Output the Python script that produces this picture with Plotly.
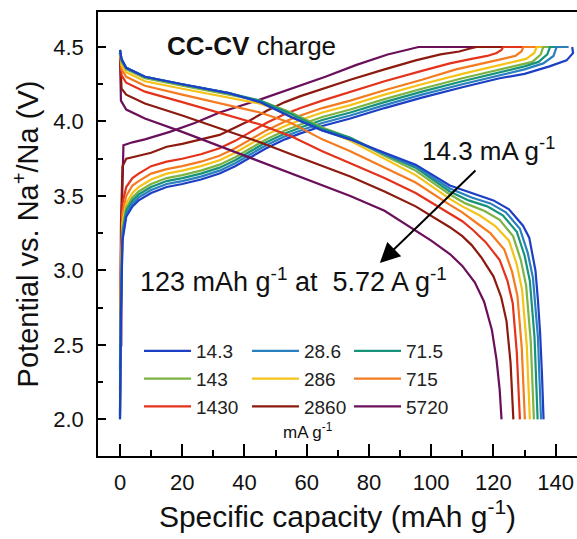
import plotly.graph_objects as go

FONT = "Liberation Sans, Arial, sans-serif"

# ---------------- data ----------------
rates = ["14.3", "28.6", "71.5", "143", "286", "715", "1430", "2860", "5720"]
colors = ["#1c3fc4", "#2a7fbf", "#16937a", "#7cb342", "#f5c218",
          "#f47b20", "#e4321b", "#8c1a0f", "#6a0f5a"]
legend_of = ["legend", "legend2", "legend3", "legend", "legend2", "legend3",
             "legend", "legend2", "legend3"]

# charge (CC-CV) curves: capacity (mAh/g), potential (V)
ch_q_14_3 = [0, 0.3, 0.8, 2, 4, 6, 10, 15, 20, 26, 32, 37, 42, 47, 53, 58, 65, 74, 85, 97, 110, 122, 130, 138, 143.5, 145.6, 145.3]
ch_v_14_3 = [2.00, 2.70, 3.20, 3.36, 3.43, 3.47, 3.52, 3.56, 3.58, 3.61, 3.65, 3.70, 3.76, 3.82, 3.88, 3.92, 3.97, 4.02, 4.09, 4.16, 4.23, 4.29, 4.32, 4.37, 4.41, 4.46, 4.50]
ch_q_28_6 = [0, 0.3, 0.8, 2, 4, 6, 10, 15, 20, 26, 32, 37, 42, 47, 53, 58, 65, 74, 85, 97, 110, 122, 130, 136, 139.3, 140.3, 144]
ch_v_28_6 = [2.00, 2.75, 3.22, 3.38, 3.45, 3.49, 3.54, 3.58, 3.60, 3.63, 3.67, 3.72, 3.78, 3.84, 3.90, 3.94, 3.99, 4.04, 4.11, 4.18, 4.25, 4.31, 4.35, 4.39, 4.44, 4.50, 4.50]
ch_q_71_5 = [0, 0.3, 0.8, 2, 4, 6, 10, 15, 20, 26, 32, 37, 42, 47, 53, 58, 65, 74, 85, 97, 110, 122, 130, 134.5, 137.3, 138.2, 144]
ch_v_71_5 = [2.02, 2.80, 3.25, 3.40, 3.47, 3.51, 3.56, 3.60, 3.62, 3.65, 3.69, 3.74, 3.80, 3.86, 3.92, 3.96, 4.01, 4.06, 4.13, 4.20, 4.27, 4.33, 4.37, 4.40, 4.45, 4.50, 4.50]
ch_q_143 = [0, 0.3, 0.8, 2, 4, 6, 10, 15, 20, 26, 32, 37, 42, 47, 53, 58, 65, 74, 85, 97, 110, 122, 128, 132.5, 135.2, 136, 144]
ch_v_143 = [2.04, 2.85, 3.28, 3.42, 3.49, 3.53, 3.58, 3.62, 3.64, 3.67, 3.71, 3.76, 3.82, 3.88, 3.94, 3.98, 4.03, 4.08, 4.15, 4.22, 4.29, 4.35, 4.38, 4.40, 4.45, 4.50, 4.50]
ch_q_286 = [0, 0.3, 0.8, 2, 4, 6, 10, 15, 20, 26, 32, 37, 42, 47, 53, 58, 65, 74, 85, 97, 110, 120, 126, 130.5, 133.1, 133.9, 144]
ch_v_286 = [2.08, 2.90, 3.32, 3.45, 3.52, 3.56, 3.61, 3.65, 3.67, 3.70, 3.74, 3.79, 3.85, 3.91, 3.97, 4.01, 4.06, 4.11, 4.18, 4.25, 4.32, 4.37, 4.40, 4.42, 4.46, 4.50, 4.50]
ch_q_715 = [0, 0.3, 0.8, 2, 4, 6, 10, 15, 20, 26, 32, 37, 42, 47, 53, 58, 65, 74, 85, 97, 108, 117, 123, 127, 129, 129.6, 144]
ch_v_715 = [2.14, 3.00, 3.38, 3.50, 3.57, 3.60, 3.65, 3.68, 3.70, 3.73, 3.77, 3.82, 3.88, 3.94, 4.00, 4.04, 4.09, 4.14, 4.21, 4.28, 4.35, 4.39, 4.42, 4.44, 4.47, 4.50, 4.50]
ch_q_1430 = [0, 0.3, 0.8, 2, 4, 6, 10, 15, 20, 26, 32, 37, 42, 47, 53, 58, 65, 74, 85, 97, 106, 113, 118, 121, 122.6, 123.1, 144]
ch_v_1430 = [2.20, 3.10, 3.45, 3.56, 3.62, 3.65, 3.70, 3.73, 3.75, 3.78, 3.82, 3.87, 3.93, 3.99, 4.05, 4.09, 4.14, 4.20, 4.27, 4.34, 4.39, 4.42, 4.44, 4.46, 4.48, 4.50, 4.50]
ch_q_2860 = [0, 0.3, 0.8, 2, 4, 6, 10, 15, 20, 26, 32, 37, 42, 47, 53, 58, 65, 74, 85, 95, 103, 109, 112.5, 114.6, 144]
ch_v_2860 = [2.33, 3.30, 3.70, 3.75, 3.76, 3.77, 3.79, 3.83, 3.85, 3.88, 3.91, 3.96, 4.01, 4.07, 4.13, 4.17, 4.22, 4.28, 4.35, 4.41, 4.45, 4.47, 4.49, 4.50, 4.50]
ch_q_5720 = [0.4, 0.6, 1.1, 4, 8, 16, 24, 32, 44, 55, 66, 76, 86, 92, 95.9, 144]
ch_v_5720 = [2.49, 3.40, 3.84, 3.86, 3.88, 3.93, 3.99, 4.06, 4.14, 4.22, 4.30, 4.38, 4.45, 4.48, 4.50, 4.50]

# discharge curves
dc_q_14_3 = [0, 0.5, 2, 8, 20, 35, 45, 55, 65, 74, 85, 95, 106, 114, 120, 125, 129.5, 131.5, 132.7, 133.5, 134.3, 135, 135.6, 136.1]
dc_v_14_3 = [4.48, 4.42, 4.36, 4.30, 4.25, 4.19, 4.13, 4.03, 3.94, 3.88, 3.79, 3.71, 3.57, 3.51, 3.47, 3.41, 3.30, 3.22, 3.10, 3.00, 2.80, 2.58, 2.30, 2.00]
dc_q_28_6 = [0, 0.5, 2, 8, 20, 35, 45, 55, 65, 74, 85, 95, 106, 113, 119, 124, 128.5, 131, 132.7, 134.3, 135.3]
dc_v_28_6 = [4.48, 4.42, 4.36, 4.30, 4.25, 4.19, 4.13, 4.03, 3.94, 3.88, 3.78, 3.70, 3.55, 3.49, 3.45, 3.39, 3.28, 3.12, 2.95, 2.55, 2.00]
dc_q_71_5 = [0, 0.5, 2, 8, 20, 35, 45, 55, 65, 74, 85, 95, 106, 112, 118, 123, 127.5, 130, 131.7, 133.2, 134.2]
dc_v_71_5 = [4.48, 4.41, 4.36, 4.30, 4.25, 4.19, 4.14, 4.05, 3.95, 3.89, 3.78, 3.69, 3.53, 3.47, 3.43, 3.37, 3.26, 3.10, 2.93, 2.55, 2.00]
dc_q_143 = [0, 0.5, 2, 8, 20, 35, 45, 55, 65, 74, 85, 95, 106, 111, 117, 122, 126.3, 128.8, 130.5, 132, 133.0]
dc_v_143 = [4.48, 4.40, 4.35, 4.29, 4.24, 4.18, 4.14, 4.06, 3.96, 3.89, 3.77, 3.67, 3.51, 3.45, 3.40, 3.34, 3.23, 3.07, 2.90, 2.52, 2.00]
dc_q_286 = [0, 0.5, 2, 8, 20, 35, 45, 55, 65, 74, 85, 95, 106, 110, 115.5, 120.5, 125, 127.5, 129.2, 130.7, 131.7]
dc_v_286 = [4.48, 4.38, 4.33, 4.27, 4.22, 4.16, 4.12, 4.05, 3.95, 3.87, 3.75, 3.64, 3.48, 3.43, 3.37, 3.30, 3.20, 3.04, 2.87, 2.50, 2.00]
dc_q_715 = [0, 0.5, 2, 8, 20, 35, 45, 55, 65, 74, 85, 95, 106, 110, 114.5, 119, 123.5, 126, 127.7, 129.1, 130.1]
dc_v_715 = [4.47, 4.35, 4.30, 4.24, 4.18, 4.11, 4.06, 3.99, 3.88, 3.80, 3.69, 3.59, 3.44, 3.39, 3.32, 3.25, 3.14, 2.99, 2.83, 2.48, 2.00]
dc_q_1430 = [0, 0.5, 2, 8, 20, 35, 45, 55, 65, 74, 85, 95, 106, 110, 113.5, 117.5, 122, 124.5, 126.2, 127.5, 128.5]
dc_v_1430 = [4.46, 4.31, 4.26, 4.20, 4.13, 4.04, 3.98, 3.90, 3.80, 3.72, 3.62, 3.52, 3.38, 3.33, 3.27, 3.19, 3.07, 2.93, 2.78, 2.45, 2.00]
dc_q_2860 = [0, 0.5, 2, 8, 20, 35, 45, 55, 65, 74, 85, 95, 106, 110, 113, 116, 120, 122.5, 124.2, 125.5, 126.4]
dc_v_2860 = [4.46, 4.22, 4.18, 4.12, 4.04, 3.93, 3.86, 3.78, 3.70, 3.63, 3.53, 3.43, 3.29, 3.23, 3.17, 3.09, 2.96, 2.82, 2.66, 2.38, 2.00]
dc_q_5720 = [0, 0.3, 2, 8, 20, 35, 45, 55, 65, 74, 85, 95, 100, 106, 110, 114, 117, 119.5, 121, 122, 122.6]
dc_v_5720 = [4.46, 4.14, 4.08, 4.02, 3.93, 3.81, 3.73, 3.65, 3.57, 3.50, 3.40, 3.27, 3.20, 3.11, 3.03, 2.92, 2.79, 2.60, 2.40, 2.20, 2.00]

x_ticks = [0, 20, 40, 60, 80, 100, 120, 140]
y_ticks = [2.0, 2.5, 3.0, 3.5, 4.0, 4.5]

charge = [(ch_q_14_3, ch_v_14_3), (ch_q_28_6, ch_v_28_6), (ch_q_71_5, ch_v_71_5),
          (ch_q_143, ch_v_143), (ch_q_286, ch_v_286), (ch_q_715, ch_v_715),
          (ch_q_1430, ch_v_1430), (ch_q_2860, ch_v_2860), (ch_q_5720, ch_v_5720)]
discharge = [(dc_q_14_3, dc_v_14_3), (dc_q_28_6, dc_v_28_6), (dc_q_71_5, dc_v_71_5),
             (dc_q_143, dc_v_143), (dc_q_286, dc_v_286), (dc_q_715, dc_v_715),
             (dc_q_1430, dc_v_1430), (dc_q_2860, dc_v_2860), (dc_q_5720, dc_v_5720)]

# ---------------- figure ----------------
fig = go.Figure()
for i in reversed(range(len(rates))):
    q, v = charge[i]
    fig.add_trace(go.Scatter(x=q, y=v, mode="lines", line=dict(color=colors[i], width=2.2),
                             showlegend=False, hoverinfo="skip"))
for i in reversed(range(len(rates))):
    q, v = discharge[i]
    fig.add_trace(go.Scatter(x=q, y=v, mode="lines", line=dict(color=colors[i], width=2.2),
                             name=rates[i], legend=legend_of[i], legendrank=i + 1))

leg = dict(bgcolor="rgba(0,0,0,0)", borderwidth=0, orientation="v",
           font=dict(size=19, family=FONT, color="#222"), itemwidth=47,
           xanchor="left", yanchor="top", y=0.279)

fig.update_layout(
    width=577, height=539,
    margin=dict(l=98, r=0, t=12, b=83),
    paper_bgcolor="white", plot_bgcolor="white",
    font=dict(family=FONT, color="#111"),
    legend=dict(x=0.0856, **leg),
    legend2=dict(x=0.311, **leg),
    legend3=dict(x=0.524, **leg),
    xaxis=dict(range=[-7.07, 146.85], tickvals=x_ticks, ticks="inside", ticklen=12,
               tickwidth=1.5, tickcolor="black", showline=True, linecolor="black",
               linewidth=1.6, mirror=True, showgrid=False, zeroline=False,
               tickfont=dict(size=22, family=FONT, color="#111"), ticklabelstandoff=6,
               minor=dict(dtick=10, tick0=0, ticks="inside", ticklen=6, tickwidth=1.5,
                          tickcolor="black", showgrid=False),
               title=dict(text="Specific capacity (mAh g<sup>-1</sup>)",
                          font=dict(size=30, family=FONT, color="#111"), standoff=10)),
    yaxis=dict(range=[1.754, 4.735], tickvals=y_ticks, tickformat=".1f", ticks="inside",
               ticklen=8, tickwidth=1.5, tickcolor="black", showline=True,
               linecolor="black", linewidth=1.6, showgrid=False, zeroline=False,
               tickfont=dict(size=22, family=FONT, color="#111"), ticklabelstandoff=8,
               minor=dict(dtick=0.25, tick0=2.0, ticks="inside", ticklen=5, tickwidth=1.5,
                          tickcolor="black", showgrid=False),
               title=dict(text="Potential vs. Na<sup>+</sup>/Na (V)",
                          font=dict(size=29, family=FONT, color="#111"), standoff=6)),
    annotations=[
        dict(x=14.5, y=4.51, xref="x", yref="y", xanchor="left", yanchor="middle",
             text="<b>CC-CV</b> charge", showarrow=False,
             font=dict(size=26, family=FONT, color="#111")),
        dict(x=96.3, y=3.81, xref="x", yref="y", xanchor="left", yanchor="middle",
             text="14.3 mA g<sup>-1</sup>", showarrow=False,
             font=dict(size=26, family=FONT, color="#111")),
        dict(x=5.9, y=2.935, xref="x", yref="y", xanchor="left", yanchor="middle",
             text="123 mAh g<sup>-1</sup> at&nbsp;&nbsp;5.72 A g<sup>-1</sup>", showarrow=False,
             font=dict(size=27, family=FONT, color="#111")),
        dict(x=83.5, y=3.05, ax=114.7, ay=3.68, xref="x", yref="y", axref="x", ayref="y",
             text="", showarrow=True, arrowhead=2, arrowsize=2, arrowwidth=2,
             arrowcolor="black", standoff=0),
        dict(x=60.4, y=1.92, xref="x", yref="y", xanchor="center", yanchor="middle",
             text="mA g<sup>-1</sup>", showarrow=False,
             font=dict(size=17, family=FONT, color="#111")),
    ],
)

fig.write_html("out.html")
